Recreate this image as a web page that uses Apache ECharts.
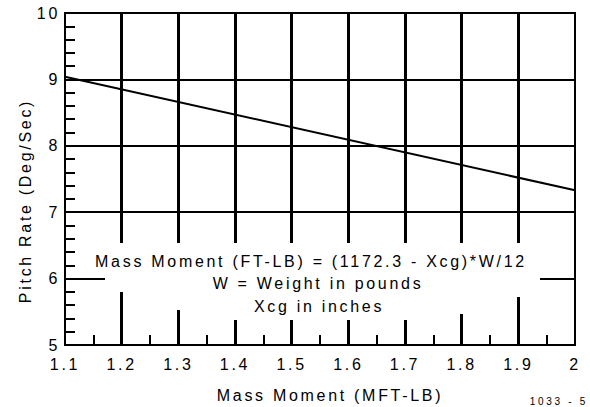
<!DOCTYPE html>
<html>
<head>
<meta charset="utf-8">
<script src="https://cdn.jsdelivr.net/npm/echarts@6/dist/echarts.min.js"></script>
<style>
  html, body { margin: 0; padding: 0; background: #fff; }
  #chart { width: 590px; height: 407px; }
  #chart text { letter-spacing: 2.7px; }
</style>
</head>
<body>
<div id="chart"></div>
<script>
// ---- data ----
const massMoment = [1.1, 2.0];          // MFT-LB
const pitchRate  = [9.04, 7.33];        // Deg/Sec
const xRange = [1.1, 2.0];
const yRange = [5, 10];
const xTitle = 'Mass Moment (MFT-LB)';
const yTitle = 'Pitch Rate (Deg/Sec)';
const noteLines = [
  'Mass Moment (FT-LB) = (1172.3 - Xcg)*W/12',
  'W = Weight in pounds',
  'Xcg in inches'
];
const figId = '1033 - 5';

const FONT = '"Liberation Sans", Arial, sans-serif';
const chart = echarts.init(document.getElementById('chart'), null, { renderer: 'svg' });

const seriesData = massMoment.map((x, i) => [x, pitchRate[i]]);

chart.setOption({
  animation: false,
  backgroundColor: '#fff',
  grid: {
    left: 65, right: 15, top: 13, bottom: 62,
    show: true, borderColor: '#000', borderWidth: 2, backgroundColor: 'transparent'
  },
  xAxis: {
    type: 'value',
    min: xRange[0], max: xRange[1], interval: 0.1,
    axisLine: { show: true, lineStyle: { color: '#000', width: 2 } },
    axisTick: { show: true, inside: true, length: 10, lineStyle: { color: '#000', width: 2 } },
    minorTick: { show: true, splitNumber: 2, length: 10, lineStyle: { color: '#000', width: 2 } },
    splitLine: { show: true, showMinLine: false, showMaxLine: false, lineStyle: { color: '#000', width: 3 } },
    axisLabel: {
      margin: 11, color: '#000', fontSize: 16, fontFamily: FONT,
      formatter: v => String(Math.round(v * 10) / 10)
    }
  },
  yAxis: {
    type: 'value',
    min: yRange[0], max: yRange[1], interval: 1,
    axisLine: { show: true, lineStyle: { color: '#000', width: 2 } },
    axisTick: { show: true, inside: true, length: 10, lineStyle: { color: '#000', width: 2 } },
    minorTick: { show: true, splitNumber: 5, length: 10, lineStyle: { color: '#000', width: 2 } },
    splitLine: { show: true, showMinLine: false, showMaxLine: false, lineStyle: { color: '#000', width: 2 } },
    axisLabel: { margin: 5, color: '#000', fontSize: 16, fontFamily: FONT }
  },
  series: [{
    type: 'line',
    data: seriesData,
    showSymbol: false,
    lineStyle: { color: '#000', width: 2 },
    z: 3
  }],
  graphic: [
    {
      type: 'polygon', z: 10, silent: true,
      shape: { points: [
        [85, 243], [556, 243], [556, 276], [540, 276], [540, 297], [490, 297],
        [490, 314], [440, 314], [440, 320], [200, 320], [200, 310], [150, 310],
        [150, 292], [105, 292], [105, 276], [85, 276]
      ] },
      style: { fill: '#fff', stroke: null }
    },
    { type: 'text', z: 11, x: 311, y: 261,
      style: { text: noteLines[0], fill: '#000', font: '16px ' + FONT, textAlign: 'center', textVerticalAlign: 'middle' } },
    { type: 'text', z: 11, x: 318, y: 283,
      style: { text: noteLines[1], fill: '#000', font: '16px ' + FONT, textAlign: 'center', textVerticalAlign: 'middle' } },
    { type: 'text', z: 11, x: 319, y: 306,
      style: { text: noteLines[2], fill: '#000', font: '16px ' + FONT, textAlign: 'center', textVerticalAlign: 'middle' } },
    { type: 'text', z: 11, x: 330, y: 395,
      style: { text: xTitle, fill: '#000', font: '16px ' + FONT, textAlign: 'center', textVerticalAlign: 'middle' } },
    { type: 'text', z: 11, x: 25, y: 201, rotation: Math.PI / 2,
      style: { text: yTitle, fill: '#000', font: '16px ' + FONT, textAlign: 'center', textVerticalAlign: 'middle' } },
    { type: 'text', z: 11, x: 588, y: 396,
      style: { text: figId, fill: '#000', font: '10px ' + FONT, textAlign: 'right', textVerticalAlign: 'top' } }
  ]
});
</script>
</body>
</html>
